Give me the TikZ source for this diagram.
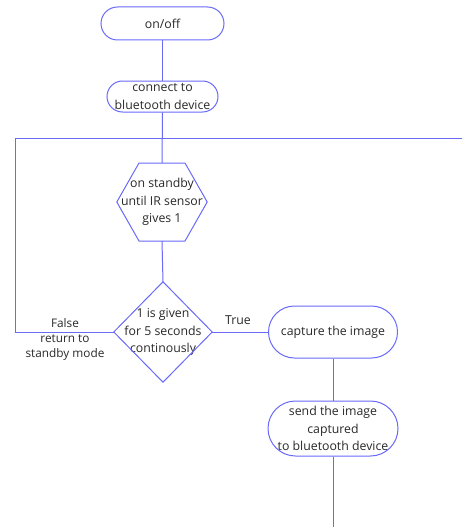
\documentclass[tikz,border=0pt]{standalone}
\usepackage{fontspec}
\setmainfont{Open Sans}
\usetikzlibrary{positioning}
\definecolor{ln}{RGB}{105,105,250}
\definecolor{tx}{RGB}{40,40,40}
\begin{document}
\begin{tikzpicture}[x=1pt,y=-1pt,
  line/.style={draw=ln,line width=1pt},
  txt/.style={text=tx,font=\fontsize{12.3}{17.5}\selectfont,align=center,inner sep=0pt},
  stadium/.style={line,txt,rectangle,rounded corners=#1},
]
\useasboundingbox (0,0) rectangle (462,527);
% nodes
\node[stadium=16.5pt,minimum width=123pt,minimum height=33pt] (on) at (162.5,23.5) {on/off};
\node[stadium=15.5pt,minimum width=111pt,minimum height=31pt] (conn) at (162.5,96.5) {connect to\\bluetooth device};
\node[txt,minimum width=90pt,minimum height=78pt] (hex) at (162,202) {on standby\\until IR sensor\\gives 1};
\draw[line] (139,163) -- (185,163) -- (hex.east) -- (185,241) -- (139,241) -- (hex.west) -- cycle;
\node[txt,minimum width=98pt,minimum height=100pt] (dia) at (163,332) {1 is given\\for 5 seconds\\continously};
\draw[line] (dia.north) -- (dia.east) -- (dia.south) -- (dia.west) -- cycle;
\node[stadium=26pt,minimum width=129pt,minimum height=52pt] (cap) at (333,332) {capture the image};
\node[stadium=27.5pt,minimum width=130pt,minimum height=55pt] (send) at (333,428.5) {send the image\\captured\\to bluetooth device};
\coordinate (lt) at (15,138);
\coordinate (rt) at (462,138);
\coordinate (bot) at (333,527);
% connectors
\draw[line] (on.south) -- (conn.north);
\draw[line] (conn.south) -- (hex.north);
\draw[line] (hex.south) -- (dia.north);
\draw[line] (dia.east) -- (cap.west);
\draw[line] (cap.south) -- (send.north);
\draw[line] (send.south) -- (bot);
\draw[line] (dia.west) -| (lt) -- (rt);
% labels
\node[txt] (true) at (238,320) {True};
\node[txt,font=\fontsize{11.8}{15}\selectfont] (false) at (65,339) {False\\return to\\standby mode};
\end{tikzpicture}
\end{document}
